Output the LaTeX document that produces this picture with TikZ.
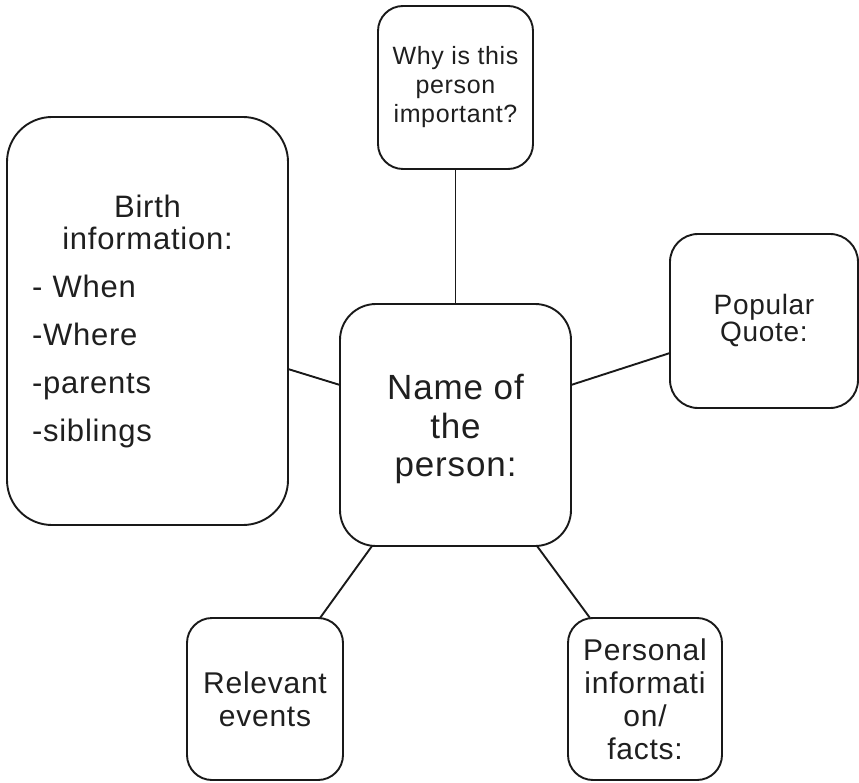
\documentclass[tikz,border=0pt]{standalone}
\usepackage{fontspec}
\setmainfont[LetterSpace=2.5]{Liberation Sans}
\begin{document}
\begin{tikzpicture}[x=1pt,y=-1pt,
  box/.style={draw=black!90, line width=1.9pt, rectangle, inner sep=0pt, outer sep=0pt, align=center, text=black!88},
  conn/.style={draw=black!90, line width=1.9pt}
]
\useasboundingbox (0,0) rectangle (859,783);
\node[box, rounded corners=25pt, minimum width=155pt, minimum height=163pt,
      font=\fontsize{25}{29}\selectfont] (why) at (455.5,87.5) {Why is this\\person\\important?};
\node[box, rounded corners=45pt, minimum width=281pt, minimum height=408pt, text width=231pt, align=left,
      font=\fontsize{31}{32}\selectfont] (birth) at (147.5,321)
  {{\centering Birth\\information:\par}%
   \fontsize{31}{48}\selectfont - When\\-Where\\-parents\\-siblings\par};
\node[box, rounded corners=36pt, minimum width=231pt, minimum height=242pt,
      font=\fontsize{35}{38.5}\selectfont] (name) at (455.5,425) {\rule{0pt}{34pt}Name of\\the\\person:};
\node[box, rounded corners=28pt, minimum width=188pt, minimum height=174pt,
      font=\fontsize{28}{27}\selectfont] (quote) at (764,321) {Popular\\Quote:};
\node[box, rounded corners=25pt, minimum width=156pt, minimum height=162pt,
      font=\fontsize{30}{33}\selectfont] (rel) at (265,699) {Relevant\\events};
\node[box, rounded corners=25pt, minimum width=154pt, minimum height=162pt,
      font=\fontsize{30}{33}\selectfont] (pers) at (645,699) {Personal\\informati\\on/\\facts:};
\draw[conn] (why.south) -- (name.north);
\draw[conn] ([yshift=-48pt]birth.east) -- ([yshift=40pt]name.west);
\draw[conn] ([yshift=40pt]name.east) -- ([yshift=-32pt]quote.west);
\draw[conn] ([xshift=-83.5pt]name.south) -- ([xshift=55pt]rel.north);
\draw[conn] ([xshift=81.5pt]name.south) -- ([xshift=-55pt]pers.north);
\end{tikzpicture}
\end{document}
